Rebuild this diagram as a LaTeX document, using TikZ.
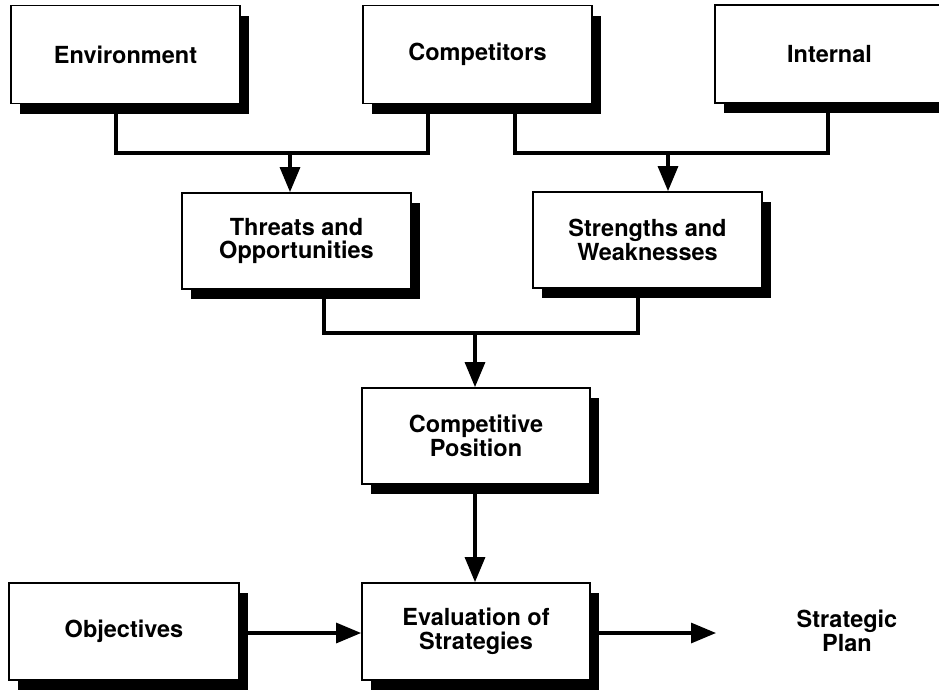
\documentclass[tikz,border=0pt]{standalone}
\usepackage{fontspec}
\setmainfont{TeX Gyre Heros}
\usetikzlibrary{arrows.meta,shadows}
\begin{document}
\begin{tikzpicture}[x=1pt,y=-1pt,
  label font/.style={font=\fontsize{23.5}{23.5}\selectfont\bfseries},
  box/.style={draw=black, line width=1.8pt, fill=white,
    minimum width=229pt, minimum height=98pt, inner sep=0pt,
    align=center, label font,
    drop shadow={shadow xshift=8.5pt, shadow yshift=-10pt, fill=black, opacity=1}},
  wire/.style={line width=3.2pt},
  flow/.style={wire, -{Triangle[length=25pt,width=20pt]}}]
\useasboundingbox (0,0) rectangle (939,689);

% top row
\node[box] (env)  at (125.5,54.5) {Environment};
\node[box] (comp) at (477.5,54.5) {Competitors};
\node[box] (int)  at (829.5,54)   {Internal};

% analysis row
\node[box, minimum height=96pt] (thr) at (296.5,241) {Threats and\\Opportunities};
\node[box, minimum height=96pt] (str) at (647.5,240) {Strengths and\\Weaknesses};

% position
\node[box, minimum width=228pt, minimum height=96pt] (cp) at (476,436) {Competitive\\Position};

% bottom row
\node[box, minimum width=230pt, minimum height=97pt] (obj)  at (124,631.5) {Objectives};
\node[box, minimum width=228pt, minimum height=97pt] (eval) at (476,631.5) {Evaluation of\\Strategies};
\node[label font, align=center] (plan) at (847,631) {Strategic\\Plan};

% connection points on the boxes
\coordinate (envOut)   at ([xshift=-9.5pt]env.south);
\coordinate (compOutL) at ([xshift=-49.5pt]comp.south);
\coordinate (compOutR) at ([xshift=37.5pt]comp.south);
\coordinate (intOut)   at ([xshift=-1.5pt]int.south);
\coordinate (thrOut)   at ([xshift=27.5pt]thr.south);
\coordinate (strOut)   at ([xshift=-9.5pt]str.south);

% bus junctions
\coordinate (jA) at (290,153);
\coordinate (jB) at (668,153);
\coordinate (jC) at (475,333);
\coordinate (planIn) at (716,633);

% environment + competitors -> threats and opportunities
\draw[wire] (envOut) -- (envOut |- jA) -- (compOutL |- jA) -- (compOutL);
\draw[flow] (jA) -- (jA |- thr.north);

% competitors + internal -> strengths and weaknesses
\draw[wire] (compOutR) -- (compOutR |- jB) -- (intOut |- jB) -- (intOut);
\draw[flow] (jB) -- (jB |- str.north);

% both analyses -> competitive position
\draw[wire] (thrOut) -- (thrOut |- jC) -- (strOut |- jC) -- (strOut);
\draw[flow] (jC) -- (jC |- cp.north);

% competitive position -> evaluation
\draw[flow] ([xshift=-1pt]cp.south) -- ([xshift=-1pt]cp.south |- eval.north);

% objectives -> evaluation -> plan
\draw[flow] (obj.east |- planIn) -- (eval.west |- planIn);
\draw[flow] (eval.east |- planIn) -- (planIn);
\end{tikzpicture}
\end{document}
